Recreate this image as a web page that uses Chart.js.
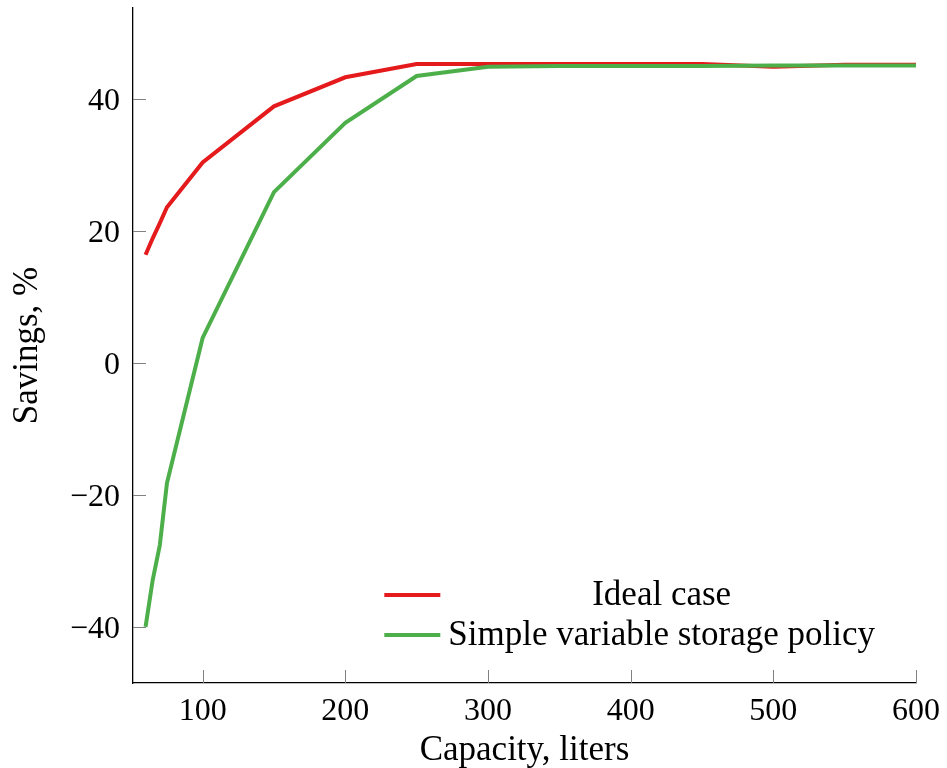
<!DOCTYPE html>
<html>
<head>
<meta charset="utf-8">
<script src="https://cdn.jsdelivr.net/npm/chart.js@4.4.0/dist/chart.umd.min.js"></script>
<style>
  html, body { margin: 0; padding: 0; background: #fff; }
  #wrap { width: 947px; height: 768px; position: relative; }
</style>
</head>
<body>
<div id="wrap"><canvas id="savingsChart"></canvas></div>
<script>
// Capacity (liters) vs savings (%)
const capacity = [60, 65, 70, 75, 100, 150, 200, 250, 300, 350, 400, 450, 500, 550, 600];
const idealCase = [16.4, 18.9, 21.2, 23.6, 30.4, 38.9, 43.3, 45.3, 45.3, 45.3, 45.3, 45.3, 44.9, 45.2, 45.2];
const simplePolicy = [-40, -32.9, -27.6, -18.2, 3.8, 25.9, 36.4, 43.5, 44.9, 45.0, 45.0, 45.0, 45.1, 45.1, 45.1];
const seriesLabels = ['Ideal case', 'Simple variable storage policy'];
const xTicks = [100, 200, 300, 400, 500, 600];
const yTicks = [-40, -20, 0, 20, 40];

const FONT = "'Liberation Serif', 'DejaVu Serif', serif";

function toPoints(xs, ys) {
    return xs.map((x, i) => ({ x: x, y: ys[i] }));
}

// pgfplots style ticks pointing into the plot
const innerTicks = {
    id: 'innerTicks',
    beforeDatasetsDraw(chart) {
        const ctx = chart.ctx;
        const xs = chart.scales.x, ys = chart.scales.y;
        const area = chart.chartArea;
        ctx.save();
        ctx.strokeStyle = '#808080';
        ctx.lineWidth = 1;
        ctx.beginPath();
        xTicks.forEach(v => {
            const px = Math.round(xs.getPixelForValue(v)) + 0.5;
            ctx.moveTo(px, area.bottom);
            ctx.lineTo(px, area.bottom - 13);
        });
        yTicks.forEach(v => {
            const py = Math.round(ys.getPixelForValue(v)) + 0.5;
            ctx.moveTo(area.left, py);
            ctx.lineTo(area.left + 13, py);
        });
        ctx.stroke();
        ctx.restore();
    }
};

// legend with centered text cells, no frame
const centeredLegend = {
    id: 'centeredLegend',
    afterDatasetsDraw(chart) {
        const ctx = chart.ctx;
        const area = chart.chartArea;
        ctx.save();
        ctx.font = '35px ' + FONT;
        const colW = Math.max(...chart.data.datasets.map(d => ctx.measureText(d.label).width));
        const right = area.right - 41;
        const textLeft = right - colW;
        const lineEnd = textLeft - 8;
        const lineStart = lineEnd - 56;
        const rows = [area.bottom - 88, area.bottom - 48];
        chart.data.datasets.forEach((d, i) => {
            const y = rows[i];
            ctx.strokeStyle = d.borderColor;
            ctx.lineWidth = 4;
            ctx.beginPath();
            ctx.moveTo(lineStart, y);
            ctx.lineTo(lineEnd, y);
            ctx.stroke();
            ctx.fillStyle = '#000';
            ctx.textAlign = 'center';
            ctx.textBaseline = 'middle';
            ctx.fillText(d.label, textLeft + colW / 2, y + 1);
        });
        ctx.restore();
    }
};

const config = {
    type: 'line',
    data: {
        datasets: [{
            label: seriesLabels[0],
            data: toPoints(capacity, idealCase),
            borderColor: '#e41a1c',
            borderWidth: 4,
            pointRadius: 0,
            tension: 0,
            order: 1
        }, {
            label: seriesLabels[1],
            data: toPoints(capacity, simplePolicy),
            borderColor: '#4daf4a',
            borderWidth: 4,
            pointRadius: 0,
            tension: 0,
            order: 0
        }]
    },
    options: {
        responsive: true,
        maintainAspectRatio: false,
        animation: false,
        layout: {
            padding: { top: 8, right: 31, bottom: 0, left: 0 }
        },
        plugins: {
            legend: { display: false },
            tooltip: { enabled: false }
        },
        scales: {
            x: {
                type: 'linear',
                min: 51.2,
                max: 600,
                afterBuildTicks: scale => { scale.ticks = xTicks.map(v => ({ value: v })); },
                afterFit: scale => {
                    scale.height = 85;
                    scale.paddingLeft = 0;
                    scale.paddingRight = 0;
                },
                grid: { display: false, drawTicks: false },
                border: { display: true, color: '#000', width: 1.3 },
                ticks: {
                    color: '#000',
                    padding: 9,
                    maxRotation: 0,
                    font: { family: FONT, size: 32 }
                },
                title: {
                    display: true,
                    text: 'Capacity, liters',
                    color: '#000',
                    padding: { top: 0, bottom: 0 },
                    font: { family: FONT, size: 35, lineHeight: 1 }
                }
            },
            y: {
                type: 'linear',
                min: -48.5,
                max: 53.8,
                afterBuildTicks: scale => { scale.ticks = yTicks.map(v => ({ value: v })); },
                afterFit: scale => {
                    scale.width = 133;
                    scale.paddingTop = 0;
                    scale.paddingBottom = 0;
                },
                grid: { display: false, drawTicks: false },
                border: { display: true, color: '#000', width: 1.3 },
                ticks: {
                    color: '#000',
                    padding: 13,
                    labelOffset: 3,
                    font: { family: FONT, size: 32 },
                    callback: v => (v < 0 ? '\u2212' + Math.abs(v) : String(v))
                },
                title: {
                    display: true,
                    text: 'Savings, %',
                    color: '#000',
                    padding: { top: 10, bottom: 0 },
                    font: { family: FONT, size: 35, lineHeight: 1 }
                }
            }
        }
    },
    plugins: [innerTicks, centeredLegend]
};

new Chart(document.getElementById('savingsChart'), config);
</script>
</body>
</html>
